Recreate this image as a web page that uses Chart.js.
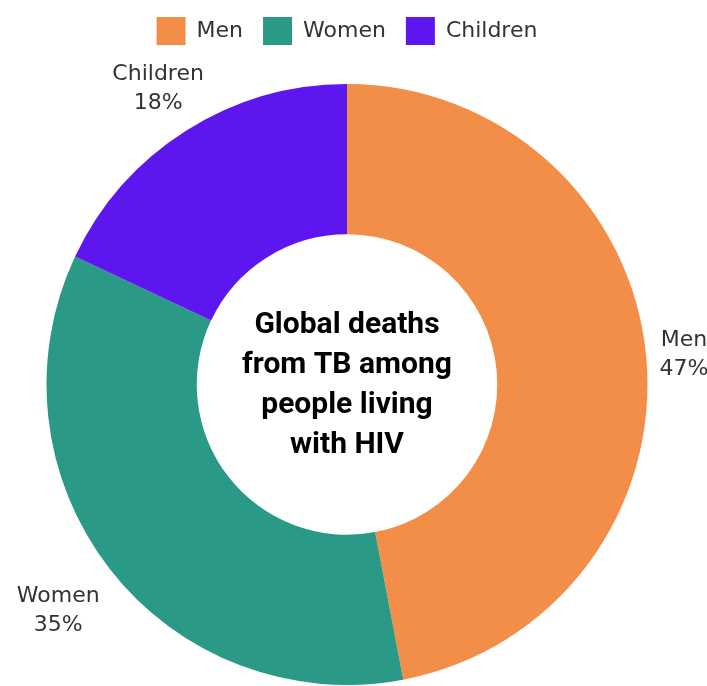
<!DOCTYPE html>
<html>
<head>
<meta charset="utf-8">
<script src="https://cdn.jsdelivr.net/npm/chart.js@4.4.0/dist/chart.umd.min.js"></script>
<style>
  html, body { margin: 0; padding: 0; background: #fff; }
  #chart { display: block; }
</style>
</head>
<body>
<canvas id="chart" width="707" height="686"></canvas>
<script>
// Data
const categories = ['Men', 'Women', 'Children'];
const shares = [47, 35, 18];
const colors = ['#F28E47', '#2A9A86', '#5D16EE'];
const centerLines = ['Global deaths', 'from TB among', 'people living', 'with HIV'];

// distance of each outside label beyond the outer edge
const labelOffsets = [38, 65, 52];

// extra gap between legend and the doughnut
const legendGap = {
  id: 'legendGap',
  beforeInit(chart) {
    const origFit = chart.legend.fit;
    chart.legend.fit = function () {
      origFit.bind(chart.legend)();
      this.height += 29;
    };
  }
};

const outsideLabels = {
  id: 'outsideLabels',
  afterDatasetsDraw(chart) {
    const ctx = chart.ctx;
    const meta = chart.getDatasetMeta(0);
    ctx.save();
    ctx.font = '22px "DejaVu Sans", sans-serif';
    ctx.fillStyle = '#333';
    ctx.textAlign = 'center';
    ctx.textBaseline = 'alphabetic';
    meta.data.forEach((arc, i) => {
      const p = arc.getProps(['x', 'y', 'startAngle', 'endAngle', 'outerRadius']);
      const mid = (p.startAngle + p.endAngle) / 2;
      const r = p.outerRadius + labelOffsets[i];
      const x = p.x + Math.cos(mid) * r;
      const y = p.y + Math.sin(mid) * r;
      ctx.fillText(categories[i], x, y - 7);
      ctx.fillText(shares[i] + '%', x, y + 22);
    });
    ctx.restore();
  }
};

const centerText = {
  id: 'centerText',
  afterDraw(chart) {
    const ctx = chart.ctx;
    const arc = chart.getDatasetMeta(0).data[0];
    ctx.save();
    ctx.font = 'bold 30px Roboto, sans-serif';
    ctx.fillStyle = '#000';
    ctx.textAlign = 'center';
    ctx.textBaseline = 'alphabetic';
    const step = 40;
    centerLines.forEach((line, i) => ctx.fillText(line, arc.x, arc.y - 52 + i * step));
    ctx.restore();
  }
};

new Chart(document.getElementById('chart'), {
  type: 'doughnut',
  data: {
    labels: categories,
    datasets: [{
      data: shares,
      backgroundColor: colors,
      borderWidth: 0
    }]
  },
  options: {
    responsive: false,
    animation: false,
    cutout: '50%',
    layout: { padding: { top: -3, right: 13, bottom: 1, left: 0 } },
    plugins: {
      legend: {
        position: 'top',
        labels: {
          boxWidth: 29,
          boxHeight: 28,
          padding: 20,
          color: '#333',
          font: { size: 22, family: '"DejaVu Sans", sans-serif' }
        }
      },
      tooltip: { enabled: false }
    }
  },
  plugins: [legendGap, outsideLabels, centerText]
});
</script>
</body>
</html>
